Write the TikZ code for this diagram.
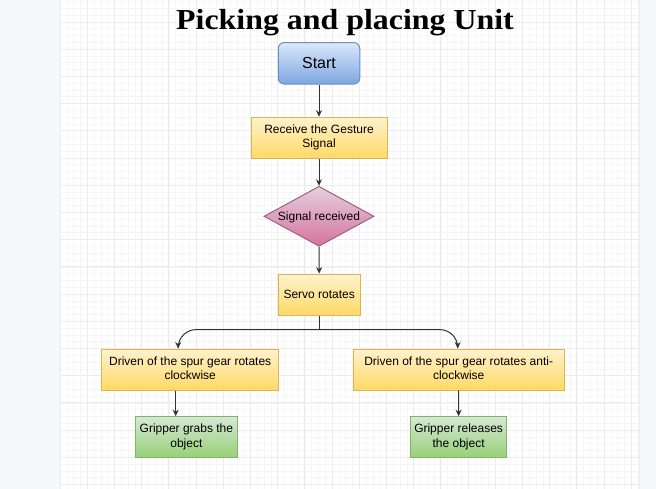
\documentclass[tikz,border=0pt]{standalone}
\usepackage{fontspec}
\usepackage{graphicx}
\setmainfont{Liberation Sans}
\newfontfamily\titlefont{Liberation Serif}
\usetikzlibrary{shapes.geometric,arrows.meta,calc}
\definecolor{pagebg}{HTML}{F6F7F9}
\definecolor{gridminor}{HTML}{F6F6F6}
\definecolor{gridmajor}{HTML}{ECECEC}
\definecolor{yfill}{HTML}{FFF2CC}
\definecolor{ygrad}{HTML}{FFD966}
\definecolor{ystroke}{HTML}{D6B656}
\definecolor{bfill}{HTML}{DAE8FC}
\definecolor{bgrad}{HTML}{7EA6E0}
\definecolor{bstroke}{HTML}{6C8EBF}
\definecolor{pfill}{HTML}{E6D0DE}
\definecolor{pgrad}{HTML}{D5739D}
\definecolor{pstroke}{HTML}{996185}
\definecolor{gfill}{HTML}{D5E8D4}
\definecolor{ggrad}{HTML}{97D077}
\definecolor{gstroke}{HTML}{82B366}
\definecolor{edgecol}{HTML}{333333}
\tikzset{
  boxtext/.style={font=\fontsize{12}{14.3}\selectfont, align=center, inner sep=0pt, text=black,
    execute at begin node={\rule{0pt}{11.4pt}}, execute at end node={\rule[-3pt]{0pt}{3pt}}},
  yellowbox/.style={boxtext, rectangle, draw=ystroke, line width=1pt, top color=yfill, bottom color=ygrad},
  greenbox/.style={boxtext, rectangle, draw=gstroke, line width=1pt, top color=gfill, bottom color=ggrad},
  startbox/.style={rectangle, rounded corners=6pt, draw=bstroke, line width=1pt, top color=bfill, bottom color=bgrad,
    font=\fontsize{16}{19}\selectfont, inner sep=0pt,
    execute at begin node={\rule{0pt}{15.1pt}}, execute at end node={\rule[-4pt]{0pt}{4pt}}},
  decisionbox/.style={boxtext, diamond, aspect=1.85, draw=pstroke, line width=1pt, top color=pfill, bottom color=pgrad},
  arr/.style={draw=edgecol, line width=1pt, -{Stealth[length=6.5pt,width=6pt]}},
  plainline/.style={draw=edgecol, line width=1pt},
}
\begin{document}
\begin{tikzpicture}[x=1pt,y=-1pt]
\useasboundingbox (0,0) rectangle (656,489);
% page background and canvas
\fill[pagebg] (0,0) rectangle (656,489);
\fill[white] (60,0) rectangle (639,489);
\foreach \i in {0,...,85} {
  \draw[gridminor, line width=0.6pt] ({60+\i*6.8},0) -- ({60+\i*6.8},489);
}
\foreach \j in {0,...,72} {
  \draw[gridminor, line width=0.6pt] (60,{1.6+\j*6.8}) -- (639,{1.6+\j*6.8});
}
\foreach \i in {0,...,21} {
  \draw[gridmajor, line width=0.8pt] ({60+\i*27.2},0) -- ({60+\i*27.2},489);
}
\foreach \j in {0,...,17} {
  \draw[gridmajor, line width=0.8pt] (60,{22+\j*27.2}) -- (639,{22+\j*27.2});
}
\draw[gridmajor, line width=0.8pt] (60,0) -- (60,489);
\draw[gridmajor, line width=0.8pt] (639,0) -- (639,489);

% title
\node[anchor=base, inner sep=0pt] (title) at (345,29.5)
  {\scalebox{1.1}[1]{\titlefont\bfseries\fontsize{29}{34}\selectfont Picking and placing Unit}};

% nodes
\node[startbox, minimum width=81.5pt, minimum height=41.5pt] (start) at (319,63.3) {Start};
\node[yellowbox, minimum width=136pt, minimum height=41.5pt] (recv) at (319,138) {Receive the Gesture\\Signal};
\node[decisionbox, minimum width=110pt, minimum height=60pt] (dec) at (319,216.3) {Signal received};
\node[yellowbox, minimum width=82pt, minimum height=41pt] (servo) at (319.2,294.6) {Servo rotates};
\node[yellowbox, minimum width=177pt, minimum height=41pt] (ly) at (190.2,369.5) {Driven of the spur gear rotates\\clockwise};
\node[yellowbox, minimum width=210.7pt, minimum height=41pt] (ry) at (458.7,369.5) {Driven of the spur gear rotates anti-\\clockwise};
\node[greenbox, minimum width=102.6pt, minimum height=41pt] (lg) at (186.4,437.2) {Gripper grabs the\\object};
\node[greenbox, minimum width=95.4pt, minimum height=41pt] (rg) at (458.6,437.2) {Gripper releases\\the object};

% connectors
\draw[arr] (start.south) -- (recv.north);
\draw[arr] (recv.south) -- (dec.north);
\draw[arr] (dec.south) -- (servo.south |- servo.north);
\coordinate (split) at ($(servo.south)+(0,14)$);
\draw[plainline] (servo.south) -- (split);
\draw[arr, rounded corners=18pt] (split) -| ([xshift=-12pt]ly.north);
\draw[arr, rounded corners=18pt] (split) -| ([xshift=-1pt]ry.north);
\draw[arr] ([xshift=-14.5pt]ly.south) -- ([xshift=-10.7pt]lg.north);
\draw[arr] (ry.south) -- (rg.north);
\end{tikzpicture}
\end{document}
